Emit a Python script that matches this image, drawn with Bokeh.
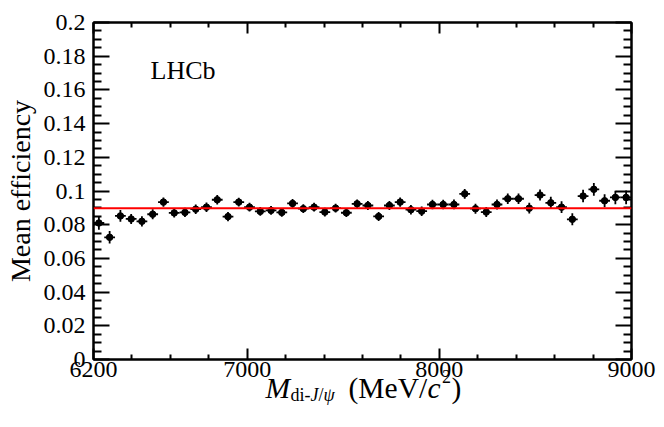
from bokeh.plotting import figure
from bokeh.layouts import column
from bokeh.models import Range1d, FixedTicker, LinearAxis, Span, Label, CustomJSTickFormatter, ColumnDataSource
from bokeh.core.properties import value
from bokeh.embed import file_html
from bokeh.resources import INLINE

# ---- data ----
mass = [6228, 6284, 6340, 6396, 6452, 6508, 6564, 6620, 6676, 6732,
        6788, 6844, 6900, 6956, 7012, 7068, 7124, 7180, 7236, 7292,
        7348, 7404, 7460, 7516, 7572, 7628, 7684, 7740, 7796, 7852,
        7908, 7964, 8020, 8076, 8132, 8188, 8244, 8300, 8356, 8412,
        8468, 8524, 8580, 8636, 8692, 8748, 8804, 8860, 8916, 8972]
eff = [0.0810, 0.0725, 0.0852, 0.0834, 0.0820, 0.0862, 0.0934, 0.0870, 0.0873, 0.0892,
       0.0904, 0.0948, 0.0848, 0.0934, 0.0904, 0.0879, 0.0885, 0.0873, 0.0926, 0.0895,
       0.0904, 0.0875, 0.0898, 0.0871, 0.0924, 0.0914, 0.0849, 0.0914, 0.0934, 0.0889,
       0.0880, 0.0920, 0.0920, 0.0920, 0.0983, 0.0895, 0.0875, 0.0920, 0.0954, 0.0954,
       0.0898, 0.0976, 0.0930, 0.0904, 0.0832, 0.0970, 0.1010, 0.0942, 0.0962, 0.0962]
eff_err = [0.0040, 0.0037, 0.0035, 0.0030, 0.0030, 0.0030, 0.0028, 0.0028, 0.0028, 0.0028,
           0.0028, 0.0028, 0.0028, 0.0026, 0.0026, 0.0026, 0.0026, 0.0026, 0.0026, 0.0026,
           0.0026, 0.0026, 0.0026, 0.0026, 0.0026, 0.0027, 0.0027, 0.0027, 0.0027, 0.0028,
           0.0028, 0.0028, 0.0028, 0.0029, 0.0029, 0.0030, 0.0030, 0.0030, 0.0031, 0.0031,
           0.0032, 0.0033, 0.0036, 0.0035, 0.0036, 0.0037, 0.0038, 0.0039, 0.0040, 0.0041]
mass_halfbin = [28] * len(mass)
fit_level = 0.0897

x_major = [6200, 7000, 8000, 9000]
x_major_labels = ["6200", "7000", "8000", "9000"]
x_minor = [6400, 6600, 6800, 7200, 7400, 7600, 7800, 8200, 8400, 8600, 8800]
y_major = [0, 0.02, 0.04, 0.06, 0.08, 0.1, 0.12, 0.14, 0.16, 0.18, 0.2]
y_major_labels = ["0", "0.02", "0.04", "0.06", "0.08", "0.1", "0.12", "0.14", "0.16", "0.18", "0.2"]
y_minor = [0.005, 0.01, 0.015, 0.025, 0.03, 0.035, 0.045, 0.05, 0.055, 0.065, 0.07, 0.075,
           0.085, 0.09, 0.095, 0.105, 0.11, 0.115, 0.125, 0.13, 0.135, 0.145, 0.15, 0.155,
           0.165, 0.17, 0.175, 0.185, 0.19, 0.195]

FONT = "Liberation Serif"

src = ColumnDataSource(dict(
    x=mass, y=eff,
    xl=[m - h for m, h in zip(mass, mass_halfbin)],
    xr=[m + h for m, h in zip(mass, mass_halfbin)],
    yl=[e - d for e, d in zip(eff, eff_err)],
    yh=[e + d for e, d in zip(eff, eff_err)],
))

p = figure(frame_width=538, frame_height=337,
           x_range=Range1d(6200, 9000), y_range=Range1d(0, 0.2),
           output_backend="svg", toolbar_location=None,
           min_border_left=93, min_border_right=33, min_border_top=22, min_border_bottom=36)
p.grid.visible = False
p.outline_line_color = "black"
p.outline_line_width = 2
p.background_fill_color = "white"
p.border_fill_color = None

def style_common(ax, labels):
    ax.major_tick_out = 0
    ax.minor_tick_out = 0
    ax.axis_line_width = 2
    ax.major_tick_line_width = 2
    ax.minor_tick_line_width = 2
    ax.major_label_text_font = FONT
    ax.major_label_text_color = "black"
    if labels:
        ax.major_label_text_font_size = "24px"
    else:
        ax.formatter = CustomJSTickFormatter(code="return ''")
        ax.major_label_text_font_size = "0px"
        ax.major_label_standoff = 0

def style_x(ax, labels=True):
    ax.ticker = FixedTicker(ticks=x_major, minor_ticks=x_minor)
    ax.major_tick_in = 11
    ax.minor_tick_in = 5
    style_common(ax, labels)
    if labels:
        ax.major_label_standoff = 2
        ax.major_label_overrides = dict(zip(x_major, x_major_labels))

def style_y(ax, labels=True):
    ax.ticker = FixedTicker(ticks=y_major, minor_ticks=y_minor)
    ax.major_tick_in = 16
    ax.minor_tick_in = 8
    style_common(ax, labels)
    if labels:
        ax.major_label_standoff = 8
        ax.major_label_overrides = dict(zip(y_major, y_major_labels))

style_x(p.xaxis[0])
style_y(p.yaxis[0])
p.yaxis[0].axis_label = "Mean efficiency"
p.yaxis[0].axis_label_text_font = FONT
p.yaxis[0].axis_label_text_font_size = "28px"
p.yaxis[0].axis_label_text_font_style = "normal"
p.yaxis[0].axis_label_text_color = "black"
p.yaxis[0].axis_label_standoff = 5

top_ax = LinearAxis()
style_x(top_ax, labels=False)
p.add_layout(top_ax, "above")
right_ax = LinearAxis()
style_y(right_ax, labels=False)
p.add_layout(right_ax, "right")

# error bars and points
p.segment(x0="xl", y0="y", x1="xr", y1="y", source=src, line_color="black", line_width=1.8)
p.segment(x0="x", y0="yl", x1="x", y1="yh", source=src, line_color="black", line_width=1.8)
p.scatter(x="x", y="y", source=src, marker="circle", size=6.5, fill_color="black", line_color="black")

# fit line
p.add_layout(Span(location=fit_level, dimension="width", line_color="#ff0000", line_width=2))

# LHCb label
p.add_layout(Label(x=6497, y=0.1715, text="LHCb",
                   text_font=FONT, text_font_size="26px", text_color="black",
                   text_baseline="alphabetic"))

# ---- x-axis title: M_{di-J/psi} (MeV/c^2), drawn in a transparent strip that overlaps the
# bottom of the main plot; its frame is aligned with the main frame (x 93..631)
p2 = figure(width=664, height=83, x_range=Range1d(93, 631), y_range=Range1d(418, 335),
            output_backend="svg", toolbar_location=None, min_border=0,
            x_axis_type=None, y_axis_type=None)
p2.grid.visible = False
p2.outline_line_color = None
p2.background_fill_color = None
p2.border_fill_color = None
p2.styles = {"margin-top": "-60px", "z-index": "5"}

base, sub, sup = 387, 394, 376
title_groups = [
    # (texts, x, y, size, style)
    (["M"], [265], [base], "29.5px", "italic"),
    (["di-", "/"], [290, 318], [sub, sub], "18px", "normal"),
    (["J", "\u03c8"], [310, 323], [sub, sub], "18px", "italic"),
    (["(MeV/", ")"], [348, 451], [base, base], "29.5px", "normal"),
    (["c"], [427], [base], "29.5px", "italic"),
    (["2"], [441.5], [sup], "18px", "normal"),
]
for txt, xs, ys, fs, st in title_groups:
    p2.text(x=xs, y=ys, text=txt, text_font=value(FONT), text_font_size=value(fs),
            text_font_style=st, text_color="black", text_baseline="alphabetic",
            text_align="left")

layout = column(p, p2, spacing=0)
open("out.html", "w").write(file_html(layout, INLINE))
